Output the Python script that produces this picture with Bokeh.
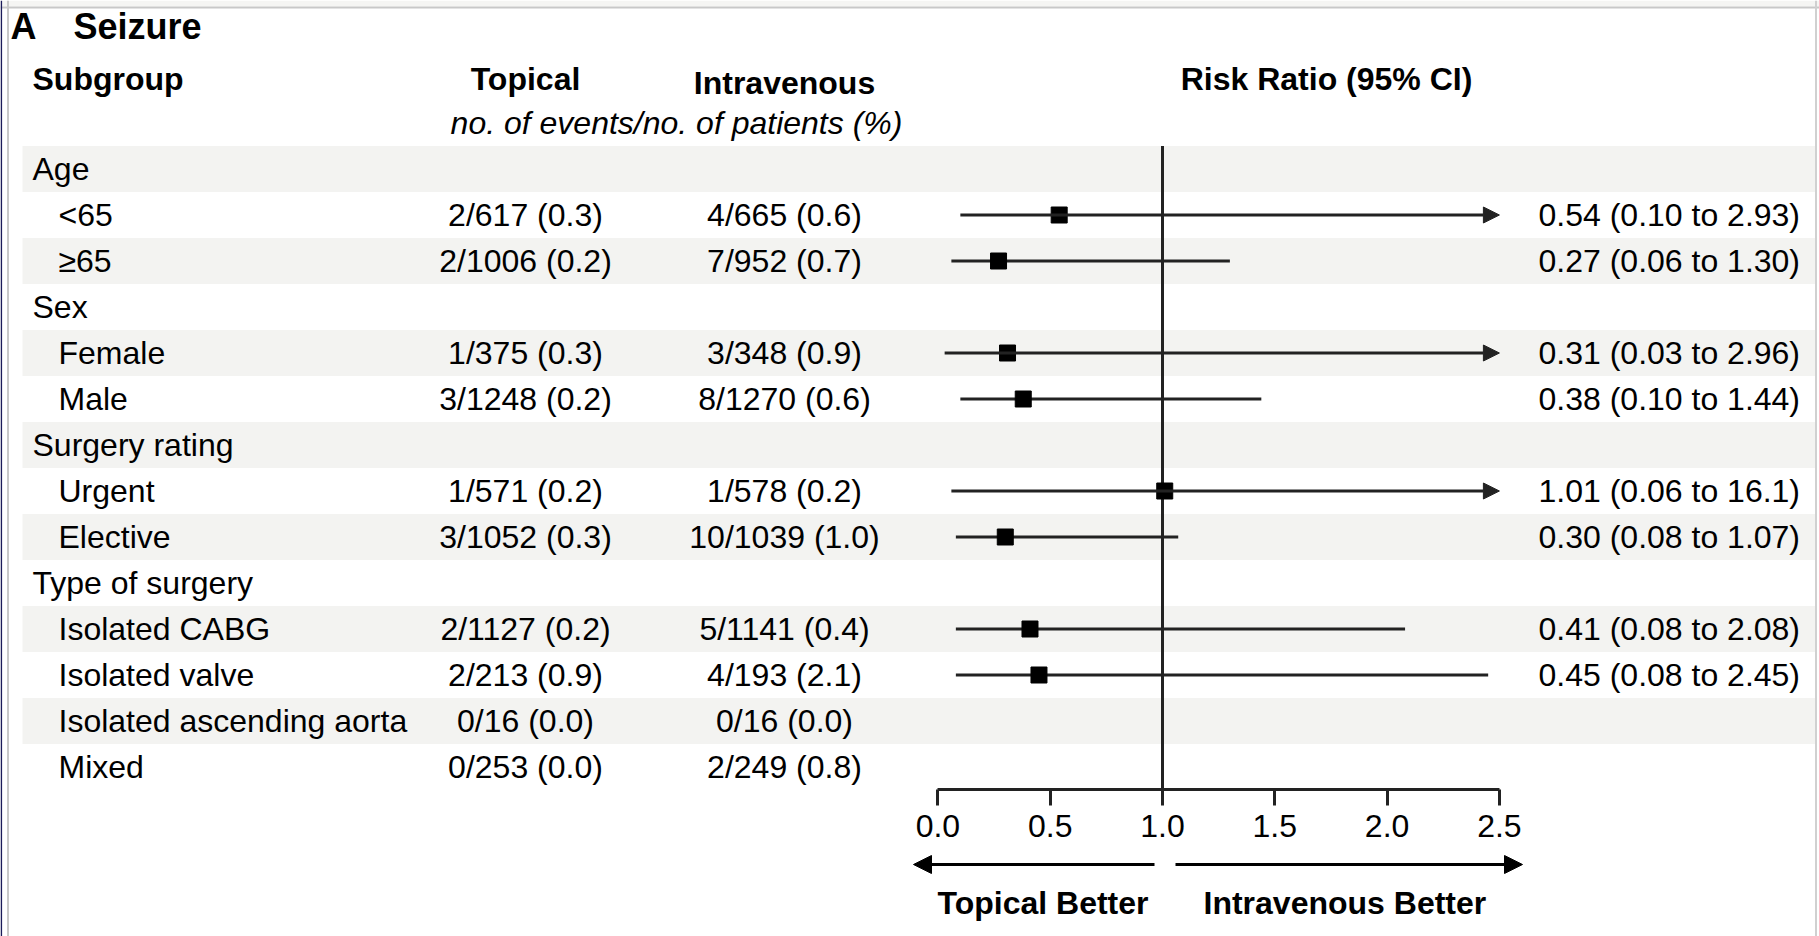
import math
from bokeh.plotting import figure
from bokeh.models import (Range1d, LinearAxis, FixedTicker, PrintfTickFormatter,
                          Arrow, NormalHead, ColumnDataSource, Span)
from bokeh.core.properties import value
from bokeh.embed import file_html
from bokeh.resources import INLINE

# ---------------- data ----------------
labels = ["Age", "<65", "\u226565", "Sex", "Female", "Male", "Surgery rating",
          "Urgent", "Elective", "Type of surgery", "Isolated CABG",
          "Isolated valve", "Isolated ascending aorta", "Mixed"]
is_group = [1, 0, 0, 1, 0, 0, 1, 0, 0, 1, 0, 0, 0, 0]
topical = ["", "2/617 (0.3)", "2/1006 (0.2)", "", "1/375 (0.3)", "3/1248 (0.2)", "",
           "1/571 (0.2)", "3/1052 (0.3)", "", "2/1127 (0.2)", "2/213 (0.9)",
           "0/16 (0.0)", "0/253 (0.0)"]
intravenous = ["", "4/665 (0.6)", "7/952 (0.7)", "", "3/348 (0.9)", "8/1270 (0.6)", "",
               "1/578 (0.2)", "10/1039 (1.0)", "", "5/1141 (0.4)", "4/193 (2.1)",
               "0/16 (0.0)", "2/249 (0.8)"]
nan = float("nan")
risk_ratio = [nan, 0.54, 0.27, nan, 0.31, 0.38, nan, 1.01, 0.30, nan, 0.41, 0.45, nan, nan]
ci_low = [nan, 0.10, 0.06, nan, 0.03, 0.10, nan, 0.06, 0.08, nan, 0.08, 0.08, nan, nan]
ci_high = [nan, 2.93, 1.30, nan, 2.96, 1.44, nan, 16.1, 1.07, nan, 2.08, 2.45, nan, nan]
ci_text = ["", "0.54 (0.10 to 2.93)", "0.27 (0.06 to 1.30)", "", "0.31 (0.03 to 2.96)",
           "0.38 (0.10 to 1.44)", "", "1.01 (0.06 to 16.1)", "0.30 (0.08 to 1.07)", "",
           "0.41 (0.08 to 2.08)", "0.45 (0.08 to 2.45)", "", ""]
axis_ticks = [0.0, 0.5, 1.0, 1.5, 2.0, 2.5]
axis_max = 2.5
null_value = 1.0

# ---------------- layout ----------------
W, H = 1819, 936
ROW = 46.0             # pixels per row
ROW0 = 168.5           # page y of row 0 centre
RR0_PX, RR_PX = 937.4, 224.6   # page x of RR=0, pixels per RR unit
FONT = value("Liberation Sans")


def ypx(page_y):
    return (page_y - ROW0) / ROW


AXIS_Y = ypx(789)

p = figure(width=W, height=H, x_range=Range1d(0, W),
           y_range=Range1d(ypx(H), ypx(0)),
           output_backend="svg", toolbar_location=None,
           x_axis_location=None, y_axis_location=None, min_border=0,
           outline_line_color=None, background_fill_color="white",
           border_fill_color="white")
p.extra_x_ranges = {"rr": Range1d((0 - RR0_PX) / RR_PX, (W - RR0_PX) / RR_PX)}
p.grid.visible = False

N = len(labels)
rows = list(range(N))

# page frame
p.quad(left=0, right=W, top=ypx(0), bottom=ypx(6), fill_color="#f5f5f3", line_color=None)
p.add_layout(Span(location=ypx(7), dimension="width", line_color="#c8c8c8", line_width=2))
p.add_layout(Span(location=7.5, dimension="height", line_color="#c8c8c8", line_width=2))
p.add_layout(Span(location=1815.5, dimension="height", line_color="#d0d0d0", line_width=2))
p.add_layout(Span(location=0.8, dimension="height", line_color="#1c1c5a", line_width=1.6))

# shaded bands
shade = [i for i in rows if i % 2 == 0]
p.quad(left=22, right=1814.5, top=[i - 0.5 for i in shade], bottom=[i + 0.5 for i in shade],
       fill_color="#f3f3f1", line_color=None)

# reference line
p.segment(x0=[null_value], x1=[null_value], y0=[-0.5], y1=[AXIS_Y], x_range_name="rr",
          line_color="#222222", line_width=3)

# CI lines
est = [i for i in rows if not math.isnan(risk_ratio[i])]
full = [i for i in est if ci_high[i] <= axis_max]
trunc = [i for i in est if ci_high[i] > axis_max]
p.segment(x0=[ci_low[i] for i in full], x1=[ci_high[i] for i in full],
          y0=full, y1=full, x_range_name="rr", line_color="#222222", line_width=3)
tsrc = ColumnDataSource(dict(x0=[ci_low[i] for i in trunc], x1=[axis_max] * len(trunc),
                             y=trunc))
p.add_layout(Arrow(source=tsrc, x_start="x0", x_end="x1", y_start="y", y_end="y",
                   x_range_name="rr", line_color="#222222", line_width=3,
                   end=NormalHead(size=16, fill_color="#222222", line_color="#222222",
                                  line_width=1)))

# point estimates
p.scatter(x=[risk_ratio[i] for i in est], y=est, marker="square", size=16,
          color="black", x_range_name="rr")

# table text
groups = [i for i in rows if is_group[i]]
subs = [i for i in rows if not is_group[i]]
txt = dict(text_font=FONT, text_font_size="32px", text_color="black", text_baseline="middle")
p.text(x=32, y=groups, text=[labels[i] for i in groups], text_align="left", **txt)
p.text(x=58, y=subs, text=[labels[i] for i in subs], text_align="left", **txt)
p.text(x=525, y=rows, text=topical, text_align="center", **txt)
p.text(x=784, y=rows, text=intravenous, text_align="center", **txt)
p.text(x=1538, y=rows, text=ci_text, text_align="left", **txt)

# headers
bold = dict(text_font=FONT, text_font_style="bold", text_color="black",
            text_baseline="middle")
p.text(x=[10], y=[ypx(26)], text=["A"], text_font_size="36px", text_align="left", **bold)
p.text(x=[73], y=[ypx(26)], text=["Seizure"], text_font_size="36px", text_align="left", **bold)
p.text(x=[32], y=[ypx(78)], text=["Subgroup"], text_font_size="32px", text_align="left", **bold)
p.text(x=[525], y=[ypx(78)], text=["Topical"], text_font_size="32px", text_align="center", **bold)
p.text(x=[784], y=[ypx(82)], text=["Intravenous"], text_font_size="32px", text_align="center", **bold)
p.text(x=[1326], y=[ypx(78)], text=["Risk Ratio (95% CI)"], text_font_size="32px",
       text_align="center", **bold)
p.text(x=[676], y=[ypx(122)], text=["no. of events/no. of patients (%)"], text_font=FONT,
       text_font_style="italic", text_font_size="32px", text_align="center",
       text_baseline="middle", text_color="black")

# axis
ax = LinearAxis(x_range_name="rr", fixed_location=AXIS_Y, bounds=(axis_ticks[0], axis_ticks[-1]),
                ticker=FixedTicker(ticks=axis_ticks, minor_ticks=[]),
                formatter=PrintfTickFormatter(format="%.1f"))
ax.axis_line_width = 3
ax.axis_line_color = "#222222"
ax.major_tick_line_width = 3
ax.major_tick_line_color = "#222222"
ax.major_tick_out = 16
ax.major_tick_in = 0
ax.minor_tick_line_color = None
ax.major_label_text_font = "Liberation Sans"
ax.major_label_text_font_size = "32px"
ax.major_label_text_color = "black"
ax.major_label_standoff = 9
p.add_layout(ax, "below")

# direction arrows and labels
ay = ypx(864)
head = dict(size=18, fill_color="black", line_color="black", line_width=1)
p.add_layout(Arrow(x_start=1154, x_end=913, y_start=ay, y_end=ay, line_color="black",
                   line_width=3, end=NormalHead(**head)))
p.add_layout(Arrow(x_start=1175, x_end=1522, y_start=ay, y_end=ay, line_color="black",
                   line_width=3, end=NormalHead(**head)))
p.text(x=[937], y=[ypx(902)], text=["Topical Better"], text_font_size="32px",
       text_align="left", **bold)
p.text(x=[1203], y=[ypx(902)], text=["Intravenous Better"], text_font_size="32px",
       text_align="left", **bold)

open("out.html", "w").write(file_html(p, INLINE))
